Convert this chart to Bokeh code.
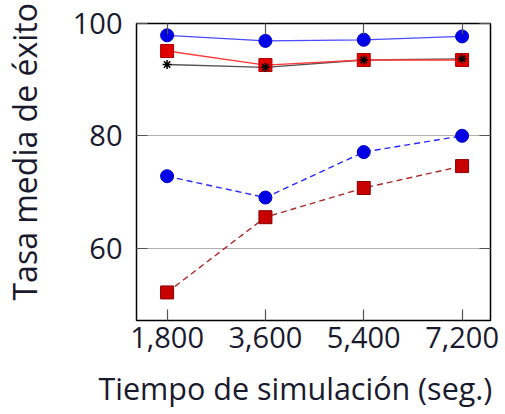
from bokeh.plotting import figure
from bokeh.models import LinearAxis, FixedTicker, Range1d, CustomJSTickFormatter, Title
from bokeh.embed import file_html
from bokeh.resources import INLINE

# Simulation time (seconds)
sim_time = [1800, 3600, 5400, 7200]
x_ticks = [1800, 3600, 5400, 7200]
y_ticks = [60, 80, 100]

# Mean success rate for each configuration
blue_solid = [97.9, 96.9, 97.1, 97.7]
red_solid = [95.1, 92.6, 93.5, 93.5]
black_star = [92.7, 92.2, 93.5, 93.7]
blue_dashed = [72.8, 69.0, 77.1, 80.0]
red_dashed = [52.1, 65.5, 70.7, 74.6]

x_title = "Tiempo de simulación (seg.)"
y_title = "Tasa media de éxito"

FONT = "Open Sans"
TEXT = "#1a1a2e"

p = figure(width=505, height=414, output_backend="svg", toolbar_location=None,
           x_range=Range1d(1240, 7720), y_range=Range1d(47.1, 100),
           min_border_left=133, min_border_right=15, min_border_top=23,
           min_border_bottom=94)
p.background_fill_color = "white"
p.border_fill_color = "white"
p.outline_line_color = "black"
p.outline_line_width = 1.5

p.xaxis.ticker = FixedTicker(ticks=x_ticks)
p.yaxis.ticker = FixedTicker(ticks=y_ticks)
p.xaxis.formatter = CustomJSTickFormatter(code="return tick.toLocaleString('en-US');")

p.xgrid.grid_line_color = None
p.ygrid.grid_line_color = "#b0b0b0"
p.ygrid.grid_line_width = 1.2

for ax in (p.xaxis[0], p.yaxis[0]):
    ax.axis_line_color = None
    ax.major_tick_in = 11
    ax.major_tick_out = 0
    ax.major_tick_line_color = "#555555"
    ax.major_tick_line_width = 1.2
    ax.minor_tick_line_color = None
    ax.major_label_text_font = FONT
    ax.major_label_text_font_size = "29px"
    ax.major_label_text_color = TEXT

p.xaxis.major_label_standoff = 6
p.yaxis.major_label_standoff = 14


def bare_axis(ticks):
    """Axis with tick marks only (no line, no visible labels)."""
    ax = LinearAxis(ticker=FixedTicker(ticks=ticks))
    ax.axis_line_color = None
    ax.major_tick_in = 11
    ax.major_tick_out = 0
    ax.major_tick_line_color = "#555555"
    ax.major_tick_line_width = 1.2
    ax.minor_tick_line_color = None
    ax.major_label_text_font_size = "1px"
    ax.major_label_text_color = None
    ax.major_label_standoff = 0
    return ax


def spacer_axis(ticks, size):
    """Blank strip that keeps the axis title away from the tick labels."""
    ax = bare_axis(ticks)
    ax.major_tick_in = 0
    ax.major_tick_out = size
    ax.major_tick_line_color = "white"
    return ax


# Mirror ticks on the top and right edges
p.add_layout(bare_axis(x_ticks), "above")
p.add_layout(bare_axis(y_ticks), "right")

# Gaps between tick labels and axis titles
p.add_layout(spacer_axis([48], 24), "left")
p.add_layout(spacer_axis([1250], 14), "below")

# Axis titles
p.add_layout(Title(text=x_title, align="left", offset=-38, vertical_align="bottom",
                   standoff=0, text_font=FONT, text_font_size="30.5px",
                   text_font_style="normal", text_color=TEXT), "below")
p.add_layout(Title(text=y_title, align="left", offset=20, vertical_align="bottom",
                   standoff=0, text_font=FONT, text_font_size="32px",
                   text_font_style="normal", text_color=TEXT), "left")

# Dashed series
p.line(sim_time, red_dashed, line_color="#b02a2a", line_width=1.4, line_dash="6 4")
p.scatter(sim_time, red_dashed, marker="square", size=13,
          fill_color="#c80000", line_color="#8b0000", line_width=1)
p.line(sim_time, blue_dashed, line_color="#2a2aff", line_width=1.4, line_dash="6 4")
p.scatter(sim_time, blue_dashed, marker="circle", size=13,
          fill_color="#0000e6", line_color="#0000c8", line_width=1)

# Solid series
p.line(sim_time, black_star, line_color="#555555", line_width=1.3)
p.line(sim_time, red_solid, line_color="#ff3a3a", line_width=1.3)
p.scatter(sim_time, red_solid, marker="square", size=13,
          fill_color="#e00000", line_color="#b00000", line_width=1)
p.scatter(sim_time, black_star, marker="asterisk", size=9,
          line_color="black", line_width=1.5)
p.line(sim_time, blue_solid, line_color="#4a4aff", line_width=1.3)
p.scatter(sim_time, blue_solid, marker="circle", size=13,
          fill_color="#0000e6", line_color="#0000c8", line_width=1)

open("out.html", "w").write(file_html(p, INLINE))
